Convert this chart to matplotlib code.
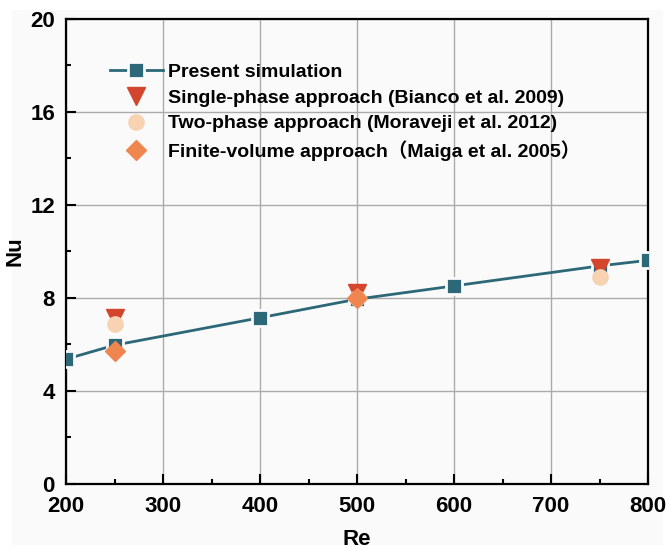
import matplotlib.pyplot as plt
from matplotlib.patches import Rectangle
from matplotlib.ticker import MultipleLocator

plt.rcParams['font.family'] = ['Liberation Sans', 'Noto Sans CJK SC']
plt.rcParams['font.weight'] = 'bold'

# Nusselt number vs Reynolds number
re_sim = [200, 250, 400, 500, 600, 750, 800]
nu_sim = [5.37, 5.97, 7.15, 7.95, 8.52, 9.38, 9.62]

re_bianco = [250, 500, 750]
nu_bianco = [7.15, 8.2, 9.3]

re_moraveji = [250, 500, 750]
nu_moraveji = [6.88, 8.0, 8.92]

re_maiga = [250, 500]
nu_maiga = [5.73, 8.0]

bg = '#fafafa'
fig = plt.figure(figsize=(6.66, 5.49), dpi=100, facecolor='white')
# light panel behind the plot with a thin white margin
fig.patches.append(Rectangle((12 / 666, 4 / 549), 651 / 666, 535 / 549,
                             transform=fig.transFigure, facecolor=bg,
                             edgecolor='none', zorder=-10))
ax = fig.add_axes([0.0991, 0.1184, 0.8739, 0.847])
ax.set_facecolor(bg)

ax.plot(re_sim, nu_sim, '-s', color='#2c6878', lw=2, ms=11,
        mec=bg, mew=2, label='Present simulation', zorder=3)
ax.plot(re_bianco, nu_bianco, 'v', color='#d4452e', ms=13, ls='none',
        label='Single-phase approach (Bianco et al. 2009)', zorder=4)
ax.plot(re_moraveji, nu_moraveji, 'o', color='#f7d3b2', ms=11, ls='none',
        label='Two-phase approach (Moraveji et al. 2012)', zorder=5)
ax.plot(re_maiga, nu_maiga, 'D', color='#ef8650', ms=10.5, ls='none',
        label='Finite-volume approach\uff08Maiga et al. 2005\uff09', zorder=6)

ax.set_xlim(200, 800)
ax.set_ylim(0, 20)
ax.xaxis.set_major_locator(MultipleLocator(100))
ax.xaxis.set_minor_locator(MultipleLocator(50))
ax.yaxis.set_major_locator(MultipleLocator(4))
ax.yaxis.set_minor_locator(MultipleLocator(2))
ax.tick_params(which='major', direction='in', length=7, width=1.5, labelsize=16)
ax.tick_params(axis='x', which='major', pad=9)
ax.tick_params(axis='y', which='major', pad=8)
ax.tick_params(which='minor', direction='in', length=3.5, width=1.5)
ax.grid(True, which='major', color='#ababab', lw=1)
for s in ax.spines.values():
    s.set_linewidth(1.6)

ax.set_xlabel('Re', fontsize=16, fontweight='bold', labelpad=8)
ax.set_ylabel('Nu', fontsize=16, fontweight='bold', labelpad=3)

ax.legend(loc='upper left', bbox_to_anchor=(0.0756, 0.905), frameon=False,
          borderpad=0, borderaxespad=0, fontsize=14, handlelength=2.7,
          handletextpad=0.3, labelspacing=0.42)

fig.savefig('out.png', dpi=100, facecolor='white')
